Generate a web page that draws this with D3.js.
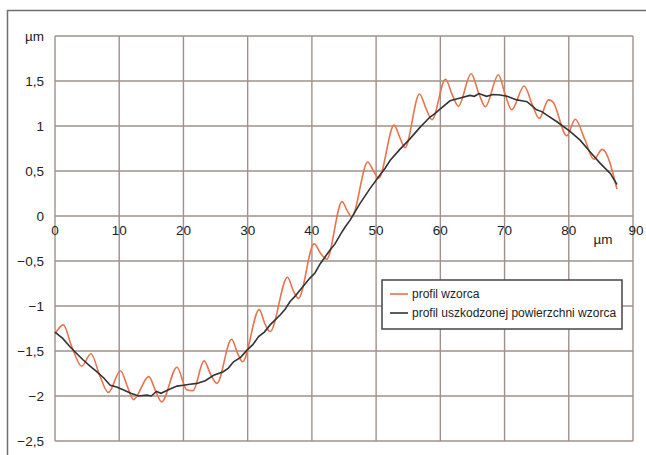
<!DOCTYPE html>
<html>
<head>
<meta charset="utf-8">
<script src="https://cdn.jsdelivr.net/npm/d3@7"></script>
<style>
  body { margin: 0; background: #fff; }
  svg { display: block; font-family: "Liberation Sans", Arial, sans-serif; }
</style>
</head>
<body>
<div id="chart"></div>
<script>
var W = 646, H = 455;

// profil wzorca (orange) - peaks / valleys
var wzorX = [0, 1.3, 2.6, 4.15, 5.6, 7.0, 8.3, 10.2, 11.3, 12.2, 14.6, 15.7, 16.6, 19.0, 20.5, 21.5, 23.2, 24.3, 25.2, 27.5, 28.4, 29.2, 31.8, 32.7, 33.5, 36.2, 37.1, 37.9, 40.35, 41.4, 42.3, 44.7, 45.5, 46.2, 48.7, 49.6, 50.4, 52.8, 53.7, 54.5, 56.75, 57.8, 58.7, 60.8, 61.9, 62.8, 64.8, 66.0, 67.0, 69.05, 70.1, 71.1, 73.05, 74.3, 75.4, 76.85, 77.5, 79.7, 81.0, 82.5, 83.9, 85.2, 87.5];
var wzorY = [-1.31, -1.21, -1.45, -1.67, -1.53, -1.78, -1.96, -1.72, -1.9, -2.04, -1.785, -1.95, -2.065, -1.68, -1.93, -1.94, -1.61, -1.77, -1.86, -1.37, -1.52, -1.62, -1.04, -1.2, -1.285, -0.68, -0.83, -0.915, -0.31, -0.42, -0.48, 0.16, 0.06, -0.01, 0.6, 0.5, 0.42, 1.01, 0.87, 0.76, 1.355, 1.19, 1.07, 1.52, 1.34, 1.22, 1.58, 1.36, 1.215, 1.57, 1.35, 1.18, 1.445, 1.24, 1.085, 1.29, 1.27, 0.89, 1.075, 0.85, 0.63, 0.74, 0.3];

// profil uszkodzonej powierzchni wzorca (black)
var uszkX = [0, 1.2, 2.3, 3.4, 4.4, 5.5, 6.5, 7.6, 8.6, 9.6, 10.6, 11.8, 13.0, 14.3, 15.0, 15.8, 16.5, 17.1, 18.0, 19.0, 20.0, 21.0, 22.1, 23.4, 24.7, 26.2, 27.0, 27.8, 28.9, 29.9, 30.8, 31.7, 32.6, 33.5, 35.05, 35.8, 36.6, 37.4, 38.2, 39.0, 39.7, 40.5, 41.3, 42.8, 43.6, 44.4, 45.2, 46.0, 47.5, 49.1, 50.6, 51.4, 52.2, 53.7, 55.3, 56.9, 58.4, 59.2, 60.0, 61.5, 63.1, 64.6, 65.3, 66.0, 67.2, 68.2, 69.3, 70.4, 71.9, 72.7, 73.5, 75.0, 75.8, 76.6, 78.1, 80.2, 81.8, 83.3, 84.9, 86.5, 87.5];
var uszkY = [-1.29, -1.36, -1.45, -1.53, -1.6, -1.67, -1.73, -1.8, -1.88, -1.9, -1.93, -1.97, -2.0, -1.99, -2.0, -1.95, -1.97, -1.95, -1.92, -1.89, -1.88, -1.87, -1.86, -1.83, -1.77, -1.73, -1.69, -1.62, -1.57, -1.49, -1.43, -1.34, -1.29, -1.21, -1.1, -1.04, -0.95, -0.89, -0.82, -0.75, -0.69, -0.63, -0.53, -0.38, -0.31, -0.21, -0.12, -0.04, 0.14, 0.31, 0.455, 0.53, 0.62, 0.74, 0.86, 0.99, 1.1, 1.14, 1.19, 1.28, 1.31, 1.34, 1.33, 1.36, 1.33, 1.35, 1.345, 1.33, 1.29, 1.28, 1.27, 1.18, 1.16, 1.12, 1.05, 0.94, 0.84, 0.715, 0.585, 0.47, 0.35];

var xTicks = [0, 10, 20, 30, 40, 50, 60, 70, 80, 90];
var yTicks = [1.5, 1, 0.5, 0, -0.5, -1, -1.5, -2, -2.5];
var seriesNames = ["profil wzorca", "profil uszkodzonej powierzchni wzorca"];
var seriesColors = ["#e8744e", "#333333"];

var x = d3.scaleLinear().domain([0, 90]).range([55, 633]);
var y = d3.scaleLinear().domain([-2.5, 2]).range([441, 36]);

var svg = d3.select("#chart").append("svg")
  .attr("width", W)
  .attr("height", H);

// outer frame
svg.append("path")
  .attr("d", "M7.5," + H + " V10.5 H" + W)
  .attr("fill", "none")
  .attr("stroke", "#6e6e6e")
  .attr("stroke-width", 1.5);

var fmt = function(d) {
  return d3.format("")(d).replace(".", ",").replace("-", "\u2212");
};

// grid
var grid = svg.append("g").attr("stroke", "#a0908a").attr("stroke-width", 1.4);
grid.selectAll(".v").data(xTicks).enter().append("line")
  .attr("x1", function(d) { return x(d); })
  .attr("x2", function(d) { return x(d); })
  .attr("y1", y(2)).attr("y2", y(-2.5));
grid.selectAll(".h").data(yTicks.concat([2])).enter().append("line")
  .attr("x1", x(0)).attr("x2", x(90))
  .attr("y1", function(d) { return y(d); })
  .attr("y2", function(d) { return y(d); });

// y labels
svg.selectAll(".ylab").data(yTicks).enter().append("text")
  .attr("x", 44)
  .attr("y", function(d) { return y(d) + 4.5; })
  .attr("text-anchor", "end")
  .attr("font-size", 13.5)
  .attr("fill", "#222")
  .text(fmt);
svg.append("text")
  .attr("x", 44).attr("y", y(2) + 4.5)
  .attr("text-anchor", "end")
  .attr("font-size", 13.5)
  .attr("fill", "#222")
  .text("\u00b5m");

// x labels (on the zero line)
svg.selectAll(".xlab").data(xTicks).enter().append("text")
  .attr("x", function(d) { return x(d) + (d == 90 ? 3 : 0); })
  .attr("y", y(0) + 19)
  .attr("text-anchor", "middle")
  .attr("font-size", 13.5)
  .attr("fill", "#222")
  .text(fmt);
svg.append("text")
  .attr("x", 603).attr("y", y(0) + 28)
  .attr("text-anchor", "middle")
  .attr("font-size", 13.5)
  .attr("fill", "#222")
  .text("\u00b5m");

// lines
var line = d3.line()
  .x(function(d) { return x(d[0]); })
  .y(function(d) { return y(d[1]); });

var wzor = d3.zip(wzorX, wzorY);
var uszk = d3.zip(uszkX, uszkY);

svg.append("path")
  .attr("d", line.curve(d3.curveMonotoneX)(wzor))
  .attr("fill", "none")
  .attr("stroke", seriesColors[0])
  .attr("stroke-width", 1.6);

svg.append("path")
  .attr("d", line.curve(d3.curveLinear)(uszk))
  .attr("fill", "none")
  .attr("stroke", seriesColors[1])
  .attr("stroke-width", 1.6);

// legend
var leg = svg.append("g").attr("transform", "translate(382,280)");
leg.append("rect")
  .attr("width", 240).attr("height", 49)
  .attr("fill", "#fff")
  .attr("stroke", "#444")
  .attr("stroke-width", 1.5);
seriesNames.forEach(function(name, i) {
  var yy = 14 + i * 19;
  leg.append("line")
    .attr("x1", 8).attr("x2", 26)
    .attr("y1", yy).attr("y2", yy)
    .attr("stroke", seriesColors[i])
    .attr("stroke-width", 1.6);
  leg.append("text")
    .attr("x", 30).attr("y", yy + 4)
    .attr("font-size", 12)
    .attr("fill", "#222")
    .text(name);
});
</script>
</body>
</html>
